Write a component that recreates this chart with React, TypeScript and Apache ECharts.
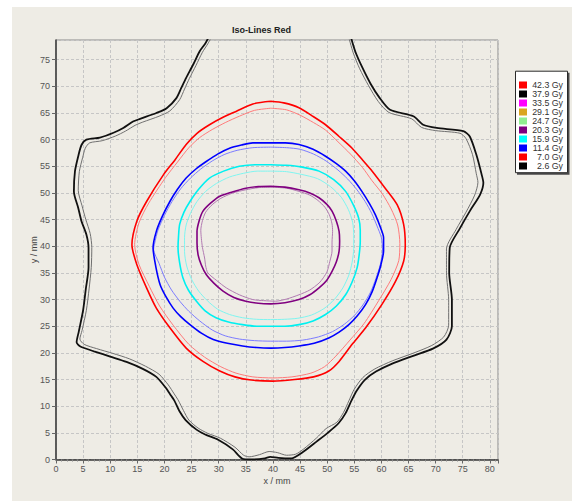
import React, { useEffect, useRef } from "react";
import * as echarts from "echarts";

const levelNames = ["42.3 Gy", "37.9 Gy", "33.5 Gy", "29.1 Gy", "24.7 Gy", "20.3 Gy", "15.9 Gy", "11.4 Gy", "7.0 Gy", "2.6 Gy"];
const levelColors = ["#FF0000", "#000000", "#FF00FF", "#DAA520", "#90EE90", "#800080", "#00FFFF", "#0000FF", "#FF0000", "#000000"];

// 2.6 Gy (black)
const black26Main: number[][] = [
  [28.3, 79.5], [27.5, 78], [26.5, 76.6], [25.3, 74.1], [24.0, 71.6], [23.1, 69.7], [22.2, 67.8], [20.4, 65.9], [18.5, 65.0], [15.5, 63.9], [14.2, 63.4], [12.4, 62.2], [10.6, 61.3], [8.1, 60.4], [5.6, 60.0], [4.7, 59.0], [4.1, 56.9], [3.5, 54.1], [3.3, 50.3], [4.1, 47.2], [4.7, 44.7], [5.6, 42.2], [6.0, 39.7], [6.0, 36], [5.5, 32], [5.0, 28], [4.2, 24], [3.8, 22], [4.5, 21.2], [7, 20.3], [10, 19.3], [13, 18.3], [16, 17.0], [18.5, 15.5], [20.2, 13.5], [21.2, 12], [21.8, 11.1], [22.8, 9], [23.9, 7.4], [25.9, 5.6], [27.5, 4.7], [29.9, 3.7], [32.6, 1.9], [34.3, 0.2], [36, 0], [38.5, 0.2], [39.5, 0.5], [41, 0.3], [43.4, 0.2], [45.4, 1.3], [48.1, 3.4], [50.1, 5.0], [52.1, 6.8], [53.4, 8.7], [54.5, 11.1], [55.5, 13], [57, 15], [59, 16.5], [62, 18], [66, 19.5], [69.5, 20.8], [72, 22.5], [73, 25], [73, 30], [72.5, 35], [72.6, 39.7], [74.5, 43.4], [76.3, 46.6], [78.2, 49.7], [78.8, 51.9], [78.5, 53.4], [77.5, 57.2], [76.3, 60.6], [75.1, 61.6], [70.2, 62.2], [67.7, 62.8], [65.9, 64.4], [61.6, 65.6], [59.7, 67.8], [58, 70.5], [56.5, 73.5], [55.2, 76.5], [54.3, 79.5]
];
const black26Thin: number[][] = [
  [28.8, 79.5], [28.0, 78], [27.0, 76.4], [25.8, 73.9], [24.6, 71.5], [23.7, 69.5], [22.8, 67.5], [21.0, 65.4], [19.0, 64.4], [16.0, 63.3], [14.6, 62.7], [12.8, 61.6], [11.0, 60.7], [8.5, 59.8], [6.2, 59.4], [5.4, 58.4], [4.9, 56.6], [4.3, 54.0], [4.1, 50.5], [4.8, 47.6], [5.5, 45.0], [6.3, 42.4], [6.6, 39.8], [6.5, 36], [6.1, 32], [5.6, 28], [4.8, 24.2], [4.4, 22.6], [5.2, 21.6], [7.5, 20.8], [10.5, 19.9], [13.5, 18.9], [16.5, 17.5], [19, 16], [20.7, 14], [21.8, 12.3], [22.5, 11.2], [23.5, 9.2], [24.5, 7.4], [26.2, 5.9], [28, 4.9], [30.3, 4.0], [33, 2.3], [34.6, 0.8], [35.6, 0.5], [37.5, 0.9], [39.3, 1.5], [40.8, 1.3], [42.5, 0.8], [44.2, 1.0], [45.7, 2.0], [48.0, 4.0], [49.8, 5.8], [51.8, 7.0], [53.0, 8.8], [54.0, 11.0], [55.0, 13.2], [56.6, 15.4], [58.8, 17.0], [62, 18.5], [66, 20], [69.3, 21.4], [71.5, 23], [72.4, 25.2], [72.4, 30], [72, 35], [72.0, 39.5], [73.8, 43.2], [75.6, 46.4], [77.2, 49.6], [77.8, 52], [77.5, 53.6], [76.8, 57.2], [75.6, 60.2], [74.5, 61.2], [70.0, 61.7], [67.4, 62.3], [65.6, 63.9], [61.4, 65.1], [59.4, 67.2], [57.6, 70.2], [56.0, 73.3], [54.8, 76.3], [53.9, 79.5]
];

// 7.0 Gy (red)
const red70Main: number[][] = [
  [39.6, 67.2], [42, 66.9], [44.8, 66.0], [47.5, 64.3], [49.7, 62.8], [52.2, 60.6], [54.6, 58.4], [56.6, 56.1], [58.3, 54.1], [60.7, 50.9], [62.9, 47.8], [64.1, 44.1], [64.4, 40.3], [64.1, 37.2], [62.6, 33.4], [60.1, 29.1], [57.1, 24.7], [54.6, 21.6], [52.2, 18.4], [50.3, 16.6], [47.5, 15.5], [44, 15], [40, 14.7], [36, 14.9], [33, 15.5], [30.2, 16.6], [27.1, 18.4], [24, 20.9], [21, 24.7], [18.5, 28.4], [16.7, 32.2], [14.9, 36.6], [14, 40.3], [14.9, 44.7], [16.7, 48.4], [19.8, 53.4], [22, 56.3], [24, 59.1], [26, 61.2], [28.3, 62.8], [30.8, 64.2], [33.2, 65.3], [36.3, 66.7], [39.6, 67.2]
];
const red70Thin: number[][] = [
  [39.6, 65.9], [42.5, 65.6], [45, 64.6], [47.5, 63.2], [49.7, 61.8], [52, 59.6], [54.3, 57.3], [56.5, 54.8], [58.2, 52.4], [60.2, 49.8], [61.8, 47], [63, 44], [63.4, 40.5], [63.2, 37.3], [61.8, 33.8], [59.5, 29.8], [56.8, 25.5], [54.2, 22.4], [51.6, 19.4], [49.5, 17.4], [47, 16.2], [43.5, 15.5], [40, 15.3], [36.3, 15.5], [33.2, 16.2], [30.4, 17.4], [27.4, 19.2], [24.5, 21.6], [21.6, 25.2], [19.1, 28.8], [17.2, 32.5], [15.3, 36.6], [14.5, 40.3], [15.3, 44.4], [17.1, 48.1], [20.2, 52.9], [22.4, 55.8], [24.5, 58.5], [26.5, 60.4], [28.8, 61.9], [31.2, 63.2], [33.8, 64.4], [36.6, 65.5], [39.6, 65.9]
];

// 11.4 Gy (blue)
const blue114Main: number[][] = [
  [39.6, 59.4], [42.3, 59.4], [44.8, 59.1], [47.4, 58.2], [49.7, 56.9], [51.7, 55.5], [53.4, 54.1], [55, 52.3], [56.4, 50.3], [57.8, 48], [58.9, 45.9], [59.8, 43.6], [60.4, 41.6], [60.4, 39.1], [59.9, 36.5], [59.2, 34.1], [58.3, 31.5], [57.1, 29.1], [55.6, 27], [54, 25.3], [52.2, 23.9], [50.3, 22.8], [47.6, 21.8], [44.8, 21.3], [42.2, 21], [39.6, 20.9], [37, 21], [34.4, 21.3], [31.6, 21.8], [29, 22.5], [26.8, 23.7], [24.7, 25.3], [23, 26.8], [21.6, 28.4], [20.3, 30.5], [19.2, 32.8], [18.4, 36.2], [17.9, 39.7], [18.5, 42.8], [19.6, 45.6], [21, 48.4], [22.4, 50.7], [24, 52.8], [25.8, 54.5], [27.7, 55.9], [29.8, 57.3], [32, 58.4], [34.2, 59], [36.3, 59.4], [39.6, 59.4]
];
const blue114Thin: number[][] = [
  [39.6, 58.6], [42.5, 58.5], [45, 58.2], [47.5, 57.3], [49.8, 56.0], [52, 54.3], [53.8, 52.6], [55.5, 50.6], [57.0, 48.4], [58.2, 46.2], [59.2, 43.8], [60.0, 41.6], [60.2, 39.3], [59.8, 36.6], [59.0, 34.0], [58.0, 31.4], [56.6, 29.0], [55.0, 27.0], [53.2, 25.4], [51.0, 24.0], [48.4, 23.0], [45.5, 22.4], [42.5, 22.2], [39.6, 22.2], [36.6, 22.3], [33.8, 22.6], [31.2, 23.2], [28.8, 24.3], [26.5, 26.0], [24.5, 27.8], [22.9, 29.6], [21.3, 31.8], [20.0, 34.2], [19.0, 36.8], [18.0, 39.4], [18.2, 40.6], [18.8, 43.0], [20.0, 45.8], [21.4, 48.4], [23.0, 50.8], [24.8, 52.8], [26.7, 54.5], [28.8, 56.0], [31.0, 57.2], [33.4, 58.0], [36.3, 58.5], [39.6, 58.6]
];

// 15.9 Gy (cyan)
const cyan159Main: number[][] = [
  [39.6, 55.3], [42.5, 55.2], [45.2, 54.9], [48.5, 54.1], [51.2, 52.5], [53.4, 50.3], [54.8, 47.8], [55.8, 45.3], [56.1, 43], [56.1, 40.9], [55.9, 38.4], [55.5, 35.9], [54.6, 33.3], [53.4, 30.9], [51.7, 28.8], [49.7, 27.2], [47.4, 26], [44.8, 25.3], [42.2, 25], [39.6, 25], [37, 25], [34.4, 25.3], [31.8, 25.8], [29.5, 26.6], [27.5, 27.9], [25.9, 29.7], [24.4, 31.8], [23.4, 34.1], [22.8, 36.9], [22.5, 39.7], [22.6, 42], [22.8, 44.1], [23.6, 46.4], [24.7, 48.4], [26.3, 50.7], [28.3, 52.8], [30.9, 54.1], [33.8, 55], [36.7, 55.3], [39.6, 55.3]
];
const cyan159Thin: number[][] = [
  [39.6, 54.1], [42.5, 54.0], [45.2, 53.5], [48.2, 52.7], [50.6, 51.2], [52.6, 49.2], [53.9, 46.9], [54.7, 44.5], [54.9, 42.0], [54.9, 39.6], [54.6, 37.0], [54.0, 34.6], [52.9, 32.2], [51.3, 30.0], [49.4, 28.3], [47.1, 27.1], [44.6, 26.5], [42.1, 26.3], [39.6, 26.25], [37.0, 26.3], [34.4, 26.6], [32.0, 27.2], [29.8, 28.2], [27.9, 29.8], [26.3, 31.6], [25.0, 33.8], [24.1, 36.3], [23.7, 39.0], [23.7, 41.6], [24.0, 44.0], [24.8, 46.2], [26.0, 48.4], [27.6, 50.3], [29.6, 51.8], [32.0, 53.0], [34.6, 53.7], [37.1, 54.1], [39.6, 54.1]
];

// 20.3 Gy (purple)
const purple203Main: number[][] = [
  [39.6, 51.25], [42.2, 51.1], [44.8, 50.6], [46.8, 50.0], [48.5, 49.1], [49.9, 47.9], [50.9, 46.6], [51.7, 44.7], [52.2, 42.8], [52.3, 41], [52.2, 39.1], [51.7, 37.1], [50.9, 35.3], [49.9, 33.6], [48.5, 32.2], [46.8, 30.9], [44.8, 30], [42.2, 29.4], [39.6, 29.2], [37.3, 29.3], [35, 29.7], [32.8, 30.4], [30.8, 31.6], [29.1, 33.1], [27.7, 34.7], [26.8, 36.5], [26.2, 38.4], [26.0, 40.6], [26.0, 42.8], [26.4, 44.8], [27.1, 46.6], [28.5, 48.1], [30.2, 49.4], [32.5, 50.2], [35, 50.9], [37.3, 51.2], [39.6, 51.25]
];
const purple203Thin: number[][] = [
  [39.6, 51.1], [42.5, 50.9], [44.8, 50.3], [46.8, 49.6], [48.3, 48.6], [49.6, 47.3], [50.4, 45.9], [50.9, 44.2], [51.0, 42.8], [50.9, 40.8], [50.9, 39.1], [50.5, 37.2], [50.0, 35.3], [49.3, 34.1], [48.5, 33.1], [46.8, 31.8], [44.8, 30.9], [42.5, 30.1], [40.5, 29.7], [38.3, 29.8], [36.3, 30.0], [33.8, 30.9], [31.4, 32.2], [29.6, 33.6], [28.0, 35.0], [27.6, 36.3], [27.4, 37.8], [27.0, 39.8], [26.8, 41.5], [26.7, 43.0], [27.0, 44.8], [27.6, 46.4], [28.8, 47.8], [30.4, 49.0], [32.6, 50.0], [35.0, 50.6], [37.3, 51.0], [39.6, 51.1]
];

const FONT = "'Liberation Sans', Arial, sans-serif";
const BG = "#EEECE5";

function lineSeries(name: string, data: number[][], color: string, width: number, z: number) {
  return {
    name,
    type: "line",
    data,
    showSymbol: false,
    symbol: "none",
    smooth: 0.25,
    clip: true,
    z,
    itemStyle: { color },
    lineStyle: { color, width },
    emphasis: { disabled: true },
    silent: true,
  };
}

export default function App() {
  const ref = useRef<HTMLDivElement>(null);
  useEffect(() => {
    if (!ref.current) return;
    const chart = echarts.init(ref.current, undefined, { renderer: "svg" });
    const drawn: Record<string, [number[][], number[][], string, string]> = {
      "20.3 Gy": [purple203Main, purple203Thin, "#800080", "#B27BB2"],
      "15.9 Gy": [cyan159Main, cyan159Thin, "#00F0F0", "#7FF5F0"],
      "11.4 Gy": [blue114Main, blue114Thin, "#0000FF", "#7C7CFF"],
      "7.0 Gy": [red70Main, red70Thin, "#FF0000", "#FF7B7B"],
      "2.6 Gy": [black26Main, black26Thin, "#111111", "#707070"],
    };
    const series: any[] = [];
    levelNames.forEach((name, i) => {
      const d = drawn[name];
      if (d) {
        series.push(lineSeries(name + " ", d[1], d[3], 1, 2));
        series.push(lineSeries(name, d[0], d[2], name === "2.6 Gy" ? 1.8 : 1.6, 3));
      } else {
        series.push(lineSeries(name, [], levelColors[i], 1.5, 1));
      }
    });
    chart.setOption({
      animation: false,
      backgroundColor: "#FFFFFF",
      textStyle: { fontFamily: FONT },
      title: {
        text: "Iso-Lines Red",
        left: 232,
        top: 25,
        padding: 0,
        textStyle: { fontSize: 9, fontWeight: "bold", color: "#222", fontFamily: FONT },
      },
      graphic: [
        { type: "rect", z: -10, silent: true, shape: { x: 12, y: 7, width: 560, height: 494 }, style: { fill: BG } },
        { type: "rect", z: 1, silent: true, shape: { x: 517, y: 72.7, width: 52.5, height: 102 }, style: { fill: "#4a4a4a" } },
        { type: "rect", z: 2, silent: true, shape: { x: 515.5, y: 71.2, width: 52, height: 101.5 }, style: { fill: "#FFFFFF", stroke: "#2a2a2a", lineWidth: 1 } },
      ],
      legend: {
        data: levelNames.map((n, i) => ({ name: n, icon: "rect", itemStyle: { color: levelColors[i] } })),
        orient: "vertical",
        left: 519,
        top: 80.5,
        padding: 0,
        itemWidth: 8,
        itemHeight: 7,
        itemGap: 0,
        itemTextGap: 4,
        selectedMode: false,
        z: 10,
        formatter: "{a|{name}}",
        textStyle: {
          rich: { a: { width: 31, align: "right", fontSize: 8.8, lineHeight: 9, color: "#333", fontFamily: FONT } },
        },
      },
      grid: {
        left: 56,
        top: 40,
        width: 442,
        height: 419.5,
        show: true,
        backgroundColor: BG,
        borderColor: "#8a8a8a",
        borderWidth: 1,
        containLabel: false,
      },
      xAxis: {
        type: "value",
        min: 0,
        max: 81.5,
        interval: 5,
        name: "x / mm",
        nameLocation: "middle",
        nameGap: 16.5,
        nameMoveOverlap: false,
        nameTextStyle: { fontSize: 9, color: "#444", fontFamily: FONT },
        axisLine: { show: true, onZero: false, lineStyle: { color: "#3a3a3a", width: 1.5 } },
        axisTick: { show: true, length: 4, lineStyle: { color: "#666" } },
        minorTick: { show: true, splitNumber: 5, length: 2, lineStyle: { color: "#888" } },
        axisLabel: { fontSize: 9, color: "#555", margin: 5, showMaxLabel: false, fontFamily: FONT },
        splitLine: { show: true, lineStyle: { color: "#C6C6C6", type: [3, 2], width: 1 } },
      },
      yAxis: {
        type: "value",
        min: 0,
        max: 78.7,
        interval: 5,
        name: "y / mm",
        nameLocation: "middle",
        nameGap: 18,
        nameMoveOverlap: false,
        nameTextStyle: { fontSize: 9, color: "#444", fontFamily: FONT },
        axisLine: { show: true, onZero: false, lineStyle: { color: "#3a3a3a", width: 1.5 } },
        axisTick: { show: true, length: 4, lineStyle: { color: "#666" } },
        axisLabel: { fontSize: 9, color: "#555", margin: 6, showMaxLabel: false, fontFamily: FONT },
        splitLine: { show: true, lineStyle: { color: "#C6C6C6", type: [3, 2], width: 1 } },
      },
      series,
    });
    return () => chart.dispose();
  }, []);
  return <div ref={ref} style={{ position: "absolute", left: 0, top: 0, width: 572, height: 501 }} />;
}
